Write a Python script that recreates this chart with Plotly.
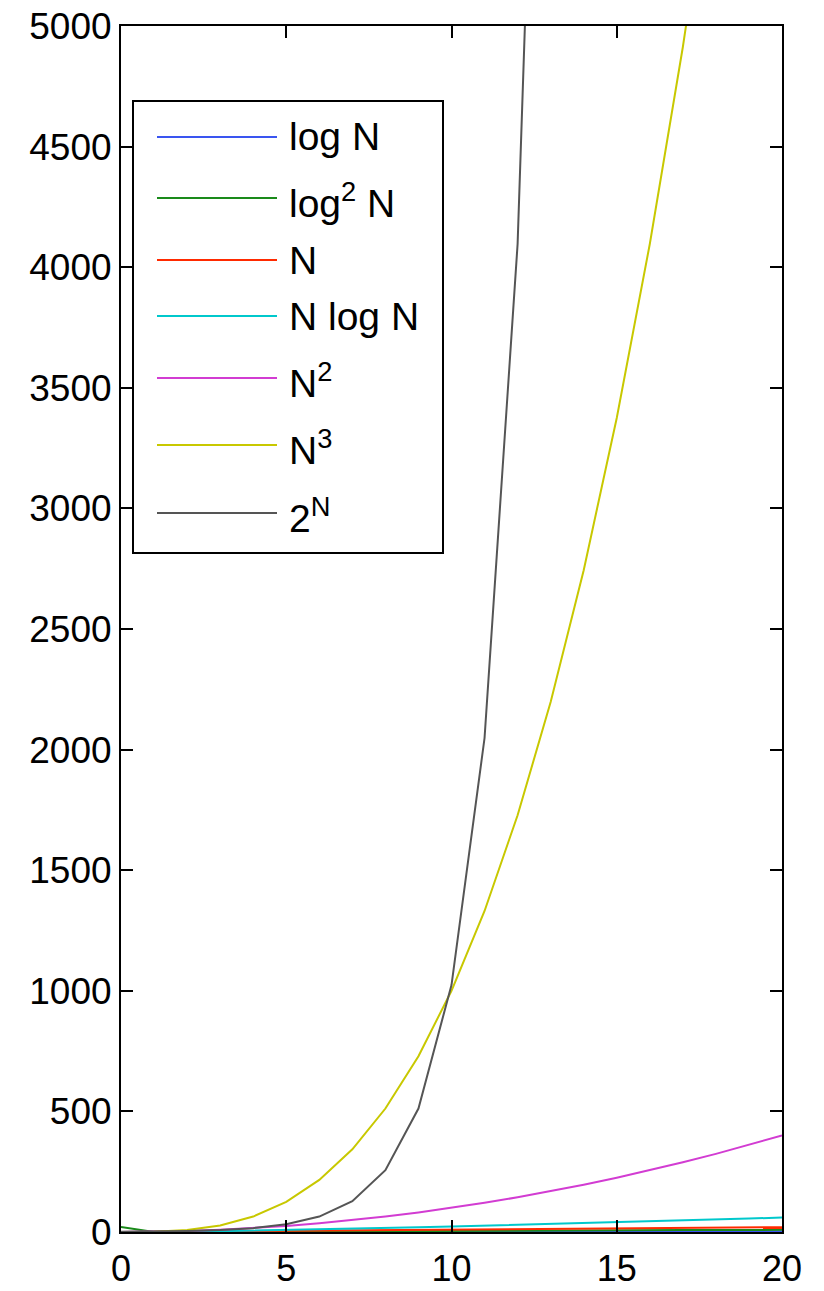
import plotly.graph_objects as go

N = list(range(0, 21))
log_n = [-4.61, 0, 0.69, 1.10, 1.39, 1.61, 1.79, 1.95, 2.08, 2.20, 2.30,
         2.40, 2.48, 2.56, 2.64, 2.71, 2.77, 2.83, 2.89, 2.94, 3.00]
log2_n = [21.2, 0, 0.48, 1.21, 1.92, 2.59, 3.21, 3.79, 4.32, 4.83, 5.30,
          5.75, 6.17, 6.58, 6.96, 7.33, 7.69, 8.03, 8.35, 8.67, 8.97]
lin_n = [0, 1, 2, 3, 4, 5, 6, 7, 8, 9, 10, 11, 12, 13, 14, 15, 16, 17, 18, 19, 20]
nlog_n = [0, 0, 1.39, 3.30, 5.55, 8.05, 10.75, 13.62, 16.64, 19.78, 23.03,
          26.38, 29.82, 33.34, 36.95, 40.62, 44.36, 48.16, 52.03, 55.94, 59.91]
sq_n = [0, 1, 4, 9, 16, 25, 36, 49, 64, 81, 100, 121, 144, 169, 196, 225,
        256, 289, 324, 361, 400]
cube_n = [0, 1, 8, 27, 64, 125, 216, 343, 512, 729, 1000, 1331, 1728, 2197,
          2744, 3375, 4096, 4913, 5832, 6859, 8000]
exp_n = [1, 2, 4, 8, 16, 32, 64, 128, 256, 512, 1024, 2048, 4096, 8192,
         16384, 32768, 65536, 131072, 262144, 524288, 1048576]

labels = ["log N", "log<sup>2</sup> N", "N", "N log N", "N<sup>2</sup>",
          "N<sup>3</sup>", "2<sup>N</sup>"]
series = [log_n, log2_n, lin_n, nlog_n, sq_n, cube_n, exp_n]
colors = ["#3a55f0", "#1a8a1a", "#ff2a00", "#00c8cc", "#d23cd2", "#c8c800", "#555555"]

x_ticks = [0, 5, 10, 15, 20]
y_ticks = [0, 500, 1000, 1500, 2000, 2500, 3000, 3500, 4000, 4500, 5000]

W, H = 824, 1291
ML, MT = 121, 26
PW, PH = 661, 1206
MR = W - ML - PW
MB = H - MT - PH

def px(x):
    return (x - ML) / PW

def py(y):
    return (MT + PH - y) / PH

fig = go.Figure()
for name, vals, col in zip(labels, series, colors):
    fig.add_trace(go.Scatter(x=N, y=vals, mode="lines", name=name,
                             line=dict(color=col, width=2), showlegend=False))

family = "Liberation Sans, Arial, sans-serif"
font = dict(family=family, size=37, color="black")
xfont = dict(family=family, size=36, color="black")
leg_font = dict(family=family, size=39, color="black")

# manual legend (MATLAB style)
shapes = [dict(type="rect", xref="paper", yref="paper",
               x0=px(133), x1=px(443), y0=py(553), y1=py(101),
               line=dict(color="black", width=2), fillcolor="white", layer="above")]
annotations = []
line_y = [137, 198, 260, 316, 378, 445, 513]
for name, col, ly in zip(labels, colors, line_y):
    shapes.append(dict(type="line", xref="paper", yref="paper",
                       x0=px(157), x1=px(277), y0=py(ly), y1=py(ly),
                       line=dict(color=col, width=2), layer="above"))
    shift = -2 if "<sup>" in name else 0
    annotations.append(dict(xref="paper", yref="paper", x=px(287), y=py(ly),
                            xanchor="left", yanchor="middle", text=name,
                            showarrow=False, font=leg_font, yshift=shift))

fig.update_layout(
    width=W, height=H,
    margin=dict(l=ML, r=MR, t=MT, b=MB, pad=0, autoexpand=False),
    plot_bgcolor="white", paper_bgcolor="white",
    font=font,
    shapes=shapes, annotations=annotations,
    xaxis=dict(range=[0, 20], tickvals=x_ticks, ticks="inside", ticklen=12,
               tickwidth=2, tickcolor="black", showline=True, linecolor="black",
               linewidth=2, mirror="ticks", showgrid=False, zeroline=False,
               tickfont=xfont, ticklabelstandoff=4, ticklabeloverflow="allow"),
    yaxis=dict(range=[0, 5000], tickvals=y_ticks, ticks="inside", ticklen=12,
               tickwidth=2, tickcolor="black", showline=True, linecolor="black",
               linewidth=2, mirror="ticks", showgrid=False, zeroline=False,
               tickfont=font, ticklabeloverflow="allow"),
)

fig.write_html("out.html", config={"displayModeBar": False},
               post_script="document.body.style.margin='0';document.body.style.overflow='hidden';")
